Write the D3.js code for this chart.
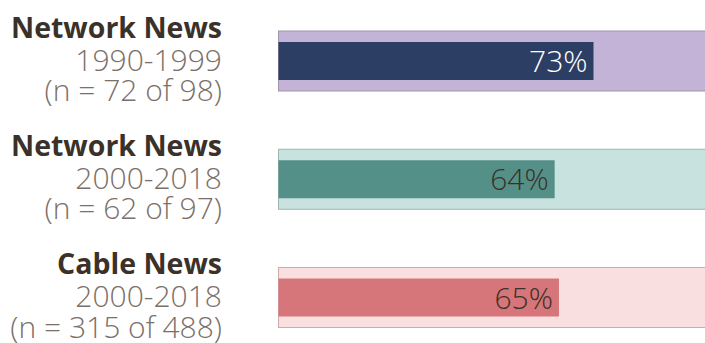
<!DOCTYPE html>
<html>
<head>
<meta charset="utf-8">
<script src="https://cdn.jsdelivr.net/npm/d3@7"></script>
<style>
  html, body { margin: 0; padding: 0; background: #fff; }
  svg { display: block; }
</style>
</head>
<body>
<svg id="chart" width="705" height="343"></svg>
<script>
// Share of coverage per outlet group and period
const groups = ["Network News", "Network News", "Cable News"];
const periods = ["1990-1999", "2000-2018", "2000-2018"];
const counts = ["(n = 72 of 98)", "(n = 62 of 97)", "(n = 315 of 488)"];
const values = [73, 64, 65];

const trackFill = ["#c3b4d7", "#c7e2df", "#f9dfe0"];
const trackStroke = ["#a394ad", "#9cb6b1", "#cdaaac"];
const barFill = ["#2c3e63", "#559088", "#d6767a"];
const labelFill = ["#ffffff", "#3b3129", "#3b3129"];

const svg = d3.select("#chart");
const idx = d3.range(values.length);

const x = d3.scaleLinear().domain([0, 100]).range([278.5, 710]);
const y = d3.scalePoint().domain(idx).range([61, 297.5]);

const trackH = 60, barH = 38;

const row = svg.selectAll("g.row")
  .data(idx)
  .join("g")
  .attr("class", "row")
  .attr("transform", i => `translate(0,${y(i)})`);

// background track (0–100%)
row.append("rect")
  .attr("x", x(0))
  .attr("y", -trackH / 2)
  .attr("width", x(100) - x(0))
  .attr("height", trackH)
  .attr("fill", i => trackFill[i])
  .attr("stroke", i => trackStroke[i])
  .attr("stroke-width", 1);

// value bar
row.append("rect")
  .attr("x", x(0))
  .attr("y", -barH / 2)
  .attr("width", i => x(values[i]) - x(0))
  .attr("height", barH)
  .attr("fill", i => barFill[i]);

// value label inside the bar end
row.append("text")
  .attr("x", i => x(values[i]) - 6)
  .attr("y", 11)
  .attr("text-anchor", "end")
  .attr("font-family", "'Open Sans', sans-serif")
  .attr("font-weight", 300)
  .attr("font-size", 30)
  .attr("fill", i => labelFill[i])
  .text(i => values[i] + "%");

// row labels on the left, one text per line
const lines = [
  { text: i => groups[i], dy: -23.5, weight: 700, size: 28.5, fill: "#3b3129" },
  { text: i => periods[i], dy: 9.5, weight: 300, size: 30, fill: "#7b7069" },
  { text: i => counts[i], dy: 40, weight: 300, size: 30, fill: "#7b7069" }
];

lines.forEach(l => {
  row.append("text")
    .attr("x", 222)
    .attr("y", l.dy)
    .attr("text-anchor", "end")
    .attr("font-family", "'Open Sans', sans-serif")
    .attr("font-weight", l.weight)
    .attr("font-size", l.size)
    .attr("fill", l.fill)
    .text(l.text);
});
</script>
</body>
</html>
